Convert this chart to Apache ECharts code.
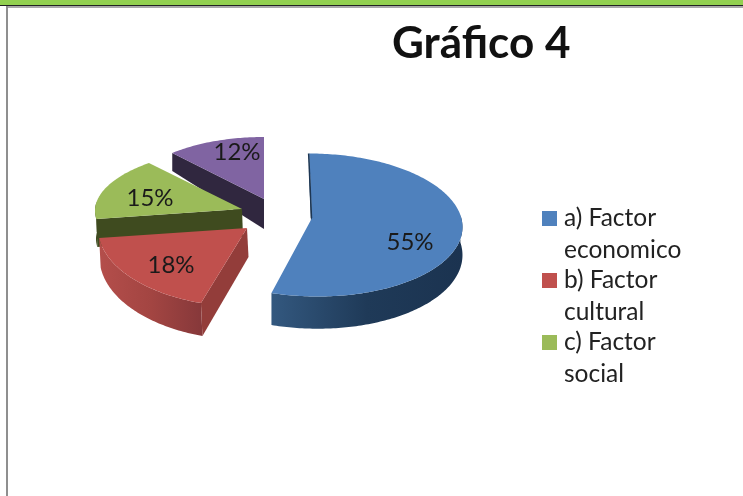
<!DOCTYPE html>
<html>
<head>
<meta charset="utf-8">
<style>html,body{margin:0;padding:0;background:#fff}#c{width:743px;height:496px}</style>
<script src="https://cdn.jsdelivr.net/npm/echarts@6/dist/echarts.min.js"></script>
</head>
<body>
<div id="c"></div>
<script>
// Data
var categories = ['a) Factor\neconomico', 'b) Factor\ncultural', 'c) Factor\nsocial', 'd)'];
var values = [55, 18, 15, 12];
var legendEntries = categories.slice(0, 3);
var titleText = 'Gráfico 4';

// Styles
var topColors = ['#4f81bd', '#c0504d', '#9bbb59', '#8064a2'];
var cutColors = ['#1d3653', '#933d3a', '#3f4b1f', '#30273f'];
var wallStops = [
  ['#33587f', '#1f3a58', '#1b3350'],
  ['#b44e4b', '#a34542', '#86383a'],
  ['#4a5a24', '#3f4b1f', '#3f4b1f'],
  ['#30273f', '#30273f', '#30273f']
];

// Layout of the faux-3D projection (pixels)
var pieCenter = [255, 220];
var explode = [[57, -2], [-8, 8], [-13, -11], [9, -21]];
var ellipse = [
  { rx: 149, ry: 71.5, ox: 1, oy: 7, da: 27.5, db: 0.06, wdx: 0, shear: 0.06 },
  { rx: 149, ry: 78.7, ox: 0, oy: 0.2, da: 29, db: 0.053, wdx: 1.5, shear: 0 },
  { rx: 171, ry: 65.6, ox: 24, oy: 1.8, da: 28, db: 0, wdx: 1, shear: 0 },
  { rx: 134, ry: 59, ox: 0, oy: -3, da: 30, db: 0.26, wdx: 0, shear: 0 }
];
var labelOffset = [[98, 24.5], [-76, 37], [-92, -11], [-27, -47]];

var total = values.reduce(function (a, b) { return a + b; }, 0);
var startAngles = [];
values.reduce(function (acc, v, i) { startAngles[i] = acc; return acc + v / total * 360; }, 0);
var RAD = Math.PI / 180;

function makeRender(i) {
  return function (params, api) {
    var v = api.value(0);
    var a0 = startAngles[i], a1 = a0 + v / total * 360;
    var e = ellipse[i];
    var ax = pieCenter[0] + explode[i][0], ay = pieCenter[1] + explode[i][1];
    function pt(t) {
      var y = ay + e.oy - e.ry * Math.cos(t * RAD);
      return [ax + e.ox + e.rx * Math.sin(t * RAD) + e.shear * (y - ay), y];
    }
    function down(p) {
      return [p[0] + e.wdx, p[1] + e.da + e.db * (p[1] - ay)];
    }
    var arc = [];
    for (var t = a0; t < a1; t += 1) arc.push(pt(t));
    arc.push(pt(a1));
    var children = [];
    // front wall along the rim
    var w0 = Math.max(a0, 82), w1 = Math.min(a1, 278);
    if (w1 > w0) {
      var rim = [];
      for (var s = w0; s < w1; s += 1) rim.push(pt(s));
      rim.push(pt(w1));
      var low = rim.map(down).reverse();
      children.push({
        type: 'polygon',
        shape: { points: rim.concat(low) },
        style: {
          fill: new echarts.graphic.LinearGradient(0, 0, 1, 0, [
            { offset: 0, color: wallStops[i][0] },
            { offset: 0.5, color: wallStops[i][1] },
            { offset: 1, color: wallStops[i][2] }
          ])
        }
      });
    }
    // radial cut face at the start angle
    var apex = [ax, ay], corner = pt(a0);
    children.push({
      type: 'polygon',
      shape: { points: [apex, corner, down(corner), down(apex)] },
      style: { fill: cutColors[i] }
    });
    // top surface
    children.push({
      type: 'polygon',
      shape: { points: [apex].concat(arc) },
      style: { fill: topColors[i] }
    });
    if (i === 0) {
      children.push({
        type: 'line',
        shape: { x1: corner[0] - 0.5, y1: corner[1], x2: apex[0] - 0.5, y2: apex[1] },
        style: { stroke: cutColors[0], lineWidth: 1.5 }
      });
    }
    children.push({
      type: 'text',
      style: {
        x: ax + labelOffset[i][0],
        y: ay + labelOffset[i][1],
        text: Math.round(v / total * 100) + '%',
        font: '24px Lato',
        fill: '#1a1a1a',
        align: 'center',
        verticalAlign: 'middle'
      }
    });
    return { type: 'group', children: children };
  };
}

var drawOrder = [3, 2, 1, 0];
var series = drawOrder.map(function (i) {
  return {
    type: 'custom',
    name: categories[i],
    coordinateSystem: 'none',
    silent: true,
    animation: false,
    itemStyle: { color: topColors[i] },
    renderItem: makeRender(i),
    data: [[values[i]]]
  };
});

var chart = echarts.init(document.getElementById('c'), null, { renderer: 'canvas' });
chart.setOption({
  animation: false,
  backgroundColor: '#fff',
  title: {
    text: titleText,
    left: 387,
    top: 17,
    textStyle: { fontFamily: 'Lato', fontWeight: 'bold', fontSize: 44, color: '#111' }
  },
  legend: {
    orient: 'vertical',
    left: 537,
    top: 197,
    itemGap: -2,
    itemWidth: 15,
    itemHeight: 46,
    selectedMode: false,
    icon: 'path://M0 0H15V15H0Z M0 46L0.01 46L0 46Z',
    data: legendEntries,
    textStyle: { fontFamily: 'Lato', fontSize: 24.5, lineHeight: 32, color: '#222', padding: [0, 0, 0, 2] }
  },
  graphic: [
    { type: 'rect', z: -1, shape: { x: 0, y: 0, width: 743, height: 5 }, style: { fill: '#92d050' } },
    { type: 'rect', z: -1, shape: { x: 0, y: 5, width: 743, height: 1 }, style: { fill: '#222' } },
    { type: 'rect', z: -1, shape: { x: 6, y: 6, width: 737, height: 2 }, style: { fill: '#a8a8a8' } },
    { type: 'rect', z: -1, shape: { x: 6, y: 6, width: 2, height: 490 }, style: { fill: '#8f8f8f' } }
  ],
  series: series
});
</script>
</body>
</html>
